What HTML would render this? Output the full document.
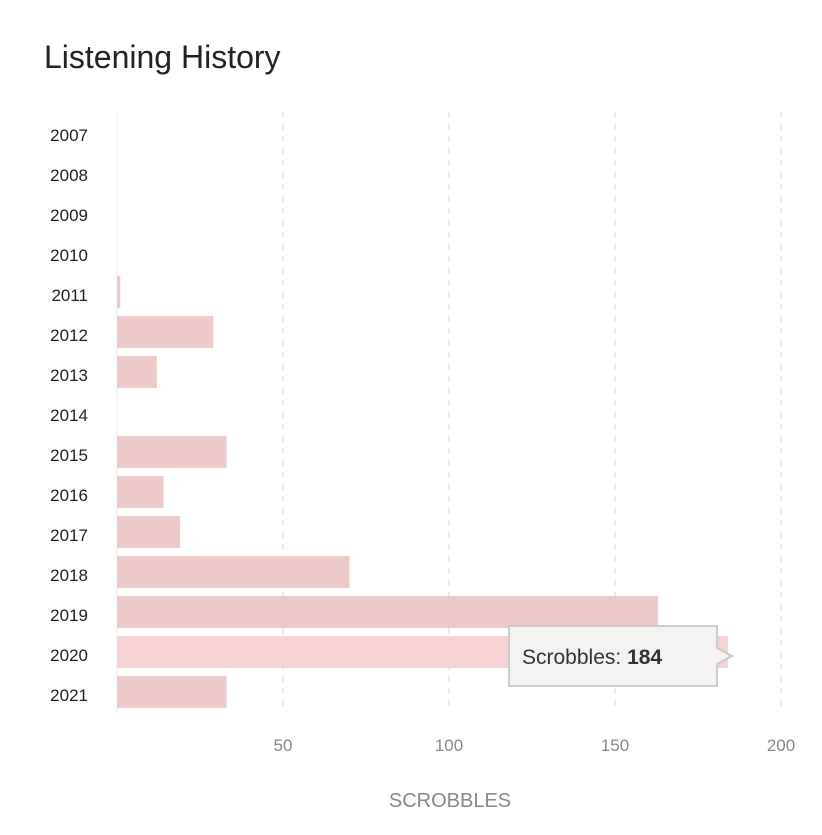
<!DOCTYPE html>
<html><head><meta charset="utf-8"><style>
body{margin:0;background:#fff;font-family:"Liberation Sans",sans-serif}
svg text{font-family:"Liberation Sans",sans-serif}
</style></head><body>
<svg width="822" height="830">
<text x="44" y="68" font-size="32" fill="#222">Listening History</text>
<g id="grid"></g><g id="bars"></g><g id="ylabels"></g><g id="xlabels"></g>
<text x="450" y="807" font-size="20" fill="#888" text-anchor="middle">SCROBBLES</text>
<g>
<path d="M509 626 H717 V648 L732 656 L717 664 V686 H509 Z" fill="#f5f2f2" stroke="#ccc" stroke-width="2" rx="4"/>
<text x="522" y="664" font-size="21" fill="#333">Scrobbles: <tspan font-weight="bold">184</tspan></text>
</g>
</svg>
<script>
const years=["2007","2008","2009","2010","2011","2012","2013","2014","2015","2016","2017","2018","2019","2020","2021"];
const scrobbles=[0,0,0,0,1,29,12,0,33,14,19,70,163,184,33];
const xTicks=[50,100,150,200];
const ns="http://www.w3.org/2000/svg";
const x=v=>117+v*3.32;
const yTop=i=>116+i*40;
function mk(t,a,p){const e=document.createElementNS(ns,t);for(const k in a)e.setAttribute(k,a[k]);p.appendChild(e);return e;}
const g=document.getElementById('grid'),b=document.getElementById('bars'),yl=document.getElementById('ylabels'),xl=document.getElementById('xlabels');
const ax=mk('line',{x1:x(0),x2:x(0),y1:112,y2:712,stroke:'#eee','stroke-width':1},g);


xTicks.forEach(t=>{
 const l=mk('line',{x1:x(t),x2:x(t),y1:112,y2:712,stroke:'#ddd','stroke-dasharray':'6,6','stroke-width':1.2},g);
 
 
 const tx=mk('text',{x:x(t),y:751,'font-size':17,fill:'#888','text-anchor':'middle'},xl);
 tx.textContent=t;
 
 
});
years.forEach((yr,i)=>{
 const tx=mk('text',{x:88,y:yTop(i)+25,'font-size':17,fill:'#222','text-anchor':'end'},yl);
 tx.textContent=yr;
 
 
 if(scrobbles[i]>0){
  const r=mk('rect',{x:x(0),y:yTop(i),width:x(scrobbles[i])-x(0),height:32,fill:i==13?'#f8d3d5':'#eec9ca'},b);
  
  
 }
});
</script>
</body></html>
